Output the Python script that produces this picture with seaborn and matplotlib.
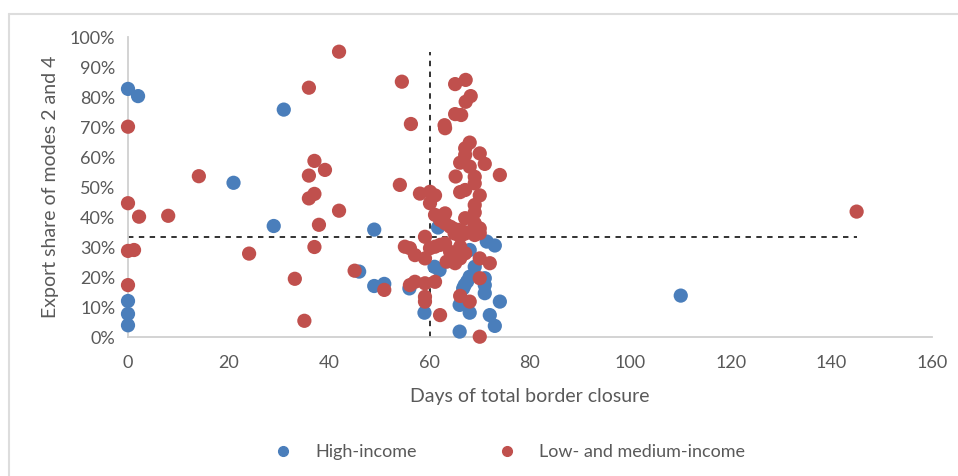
import pandas as pd
import matplotlib.pyplot as plt
import seaborn as sns
from matplotlib.ticker import PercentFormatter
from matplotlib.lines import Line2D

# Gün sayısı (x) ve ihracat payı % (y)
high_days = [0, 2, 0, 0, 0, 21, 31, 29, 49, 46, 49, 51, 110,
             61.7, 71.4, 73, 68, 61, 62, 69, 68, 67.5, 67, 71, 71, 71,
             56, 59, 66, 68, 74, 72, 73, 66, 66.7]
high_share = [82.7, 80.3, 12, 7.7, 3.9, 51.4, 75.8, 37, 35.8, 21.8, 17, 17.7, 13.8,
              36.5, 31.8, 30.5, 29, 23.4, 22.3, 23.4, 20.1, 18.5, 17.3, 19.6, 17.3, 14.6,
              16.2, 8.1, 10.7, 8.1, 11.8, 7.3, 3.7, 1.8, 16.2]

low_days = [42, 36, 0, 37.1, 39.2, 36, 14.1, 37.1, 36, 0, 42, 2.2, 8, 38, 37.1, 0, 1.2,
            24.1, 45.1, 33.2, 0, 35.1, 51, 145,
            54.5, 56.3, 54.1, 63.1, 63.0, 65.1, 67.2, 68.2, 67.2, 65.1, 66.3,
            68, 67.1, 70, 67.1, 71, 66.1, 68, 74, 65.2, 69, 69,
            58.1, 60.1, 61.1, 60.1, 66.1, 67.1, 70, 69, 69,
            61.1, 63.1, 62.1, 63.1, 64.1, 64.7, 65.8, 66.7, 67.1, 69, 70, 70, 67.1, 68, 66.1, 59.1,
            65, 69, 55.1, 56.1, 57.1, 59.1, 60.1, 61.1, 62.1, 63.1, 64.1, 66.1, 67.1,
            63.4, 64.1, 65.1, 66.1, 70, 72,
            70, 56.1, 57.1, 59.1, 61.1, 59.1, 59.1, 66.1, 68, 62.1, 70]
low_share = [95.1, 83.1, 70.1, 58.7, 55.7, 53.8, 53.6, 47.7, 46.2, 44.6, 42.1, 40.1, 40.4, 37.4, 30, 28.7, 29,
             27.8, 22.1, 19.4, 17.3, 5.4, 15.7, 41.8,
             85.1, 71, 50.7, 69.6, 70.6, 84.3, 85.7, 80.3, 78.4, 74.3, 74,
             64.8, 62.9, 61.2, 60.7, 57.7, 58.1, 56.8, 54, 53.5, 53.4, 51.2,
             47.8, 48.4, 47.2, 44.6, 48.3, 49, 47.2, 44, 41.5,
             40.7, 41.2, 39, 37.9, 36.8, 36.2, 35.7, 35.1, 39.6, 37.9, 36.2, 34.6, 34.5, 35, 33.5, 33.4,
             34.5, 34, 30.1, 29.6, 27.3, 26.2, 29.6, 30.1, 30.7, 31.2, 28.4, 30.1, 27.9,
             25.1, 25.7, 24.6, 26.2, 26.2, 24.6,
             19.6, 17.3, 18.4, 17.9, 18.4, 13.4, 11.8, 13.7, 11.8, 7.3, 0.1]

groups = ['High-income', 'Low- and medium-income']
colors = ['#4a7ebb', '#c0504d']

df = pd.DataFrame({
    'days': high_days + low_days,
    'share': high_share + low_share,
    'group': [groups[0]] * len(high_days) + [groups[1]] * len(low_days),
})

sns.set_style('white')
plt.rcParams['font.family'] = ['Lato', 'DejaVu Sans']

fig = plt.figure(figsize=(9.58, 4.76), dpi=100)
ax = fig.add_axes([128 / 958, 1 - 337 / 476, 804 / 958, 300 / 476])

sns.scatterplot(data=df, x='days', y='share', hue='group', hue_order=groups,
                palette=colors, s=105, linewidth=0, alpha=1, ax=ax, legend=False,
                clip_on=False, zorder=3)

# ortalama çizgileri
ax.plot([60, 60], [0, df['share'].max()], ls=(0, (3, 3)), color='#222222', lw=1.3, zorder=2)
ax.plot([0, df['days'].max()], [33.3, 33.3], ls=(0, (3, 3)), color='#222222', lw=1.3, zorder=2)

ax.set_xlim(0, 160)
ax.set_ylim(0, 100)
ax.set_xticks(range(0, 161, 20))
ax.set_yticks(range(0, 101, 10))
ax.yaxis.set_major_formatter(PercentFormatter(100, decimals=0))
ax.tick_params(length=0, labelsize=13, labelcolor='#595959')
ax.tick_params(axis='x', pad=13)
ax.tick_params(axis='y', pad=9)
for side in ['top', 'right']:
    ax.spines[side].set_visible(False)
for side in ['left', 'bottom']:
    ax.spines[side].set_color('#d0d0d0')
    ax.spines[side].set_linewidth(1.3)

ax.set_xlabel('Days of total border closure', fontsize=14, color='#595959', labelpad=12)
ax.set_ylabel('Export share of modes 2 and 4', fontsize=14, color='#595959', labelpad=8)

handles = [Line2D([], [], marker='o', ls='', color=c, markersize=7) for c in colors]
fig.legend(handles, groups, loc='center', bbox_to_anchor=(0.527, 1 - 452 / 476), ncol=2,
           frameon=False, fontsize=13, labelcolor='#595959', columnspacing=4.0, handletextpad=0.8)

# çerçeve (üst ve sol)
fig.add_artist(Line2D([9 / 958, 1], [1 - 14 / 476] * 2, color='#dddddd', lw=1.5))
fig.add_artist(Line2D([9 / 958] * 2, [0, 1 - 14 / 476], color='#dddddd', lw=1.5))

fig.savefig('out.png', dpi=100)
